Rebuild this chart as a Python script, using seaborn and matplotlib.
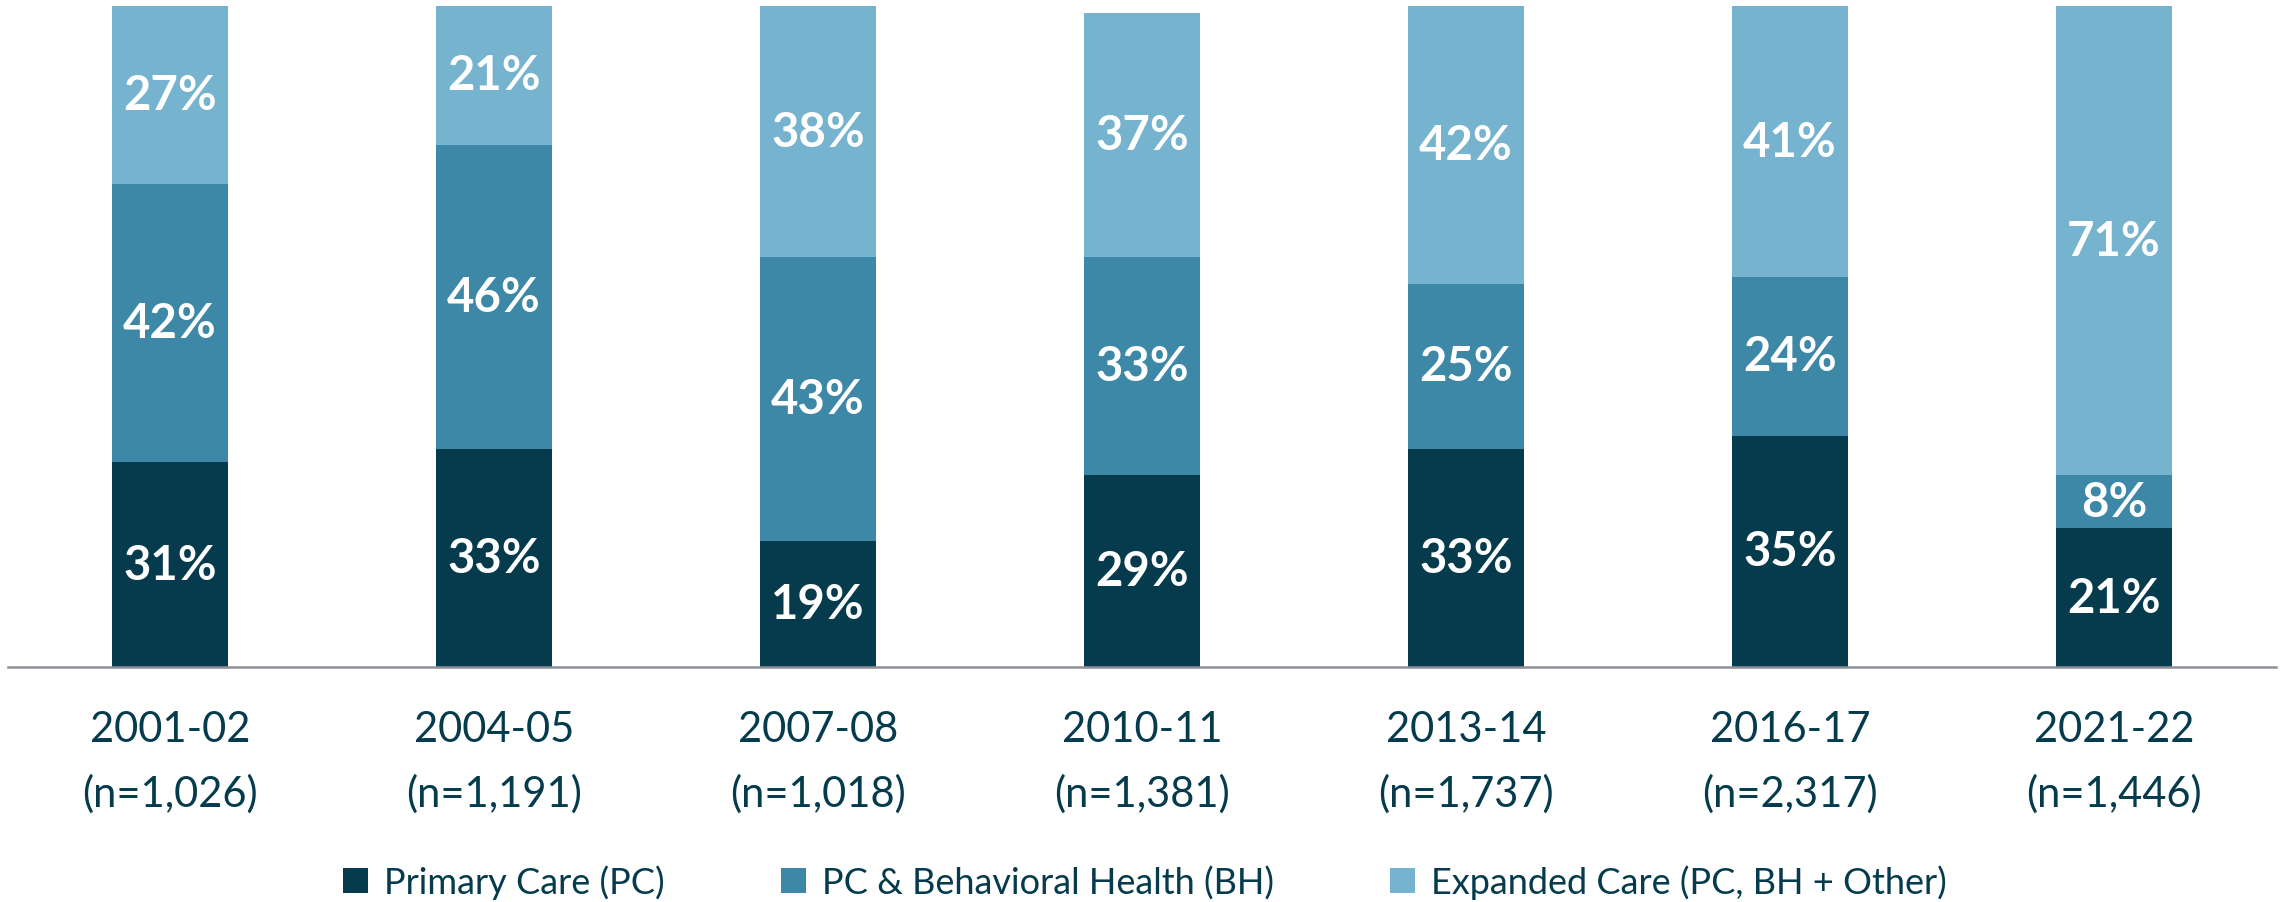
import numpy as np
import pandas as pd
import matplotlib
matplotlib.use("Agg")
import matplotlib.pyplot as plt
import seaborn as sns
from matplotlib.patches import Patch

# data
years = ['2001-02', '2004-05', '2007-08', '2010-11', '2013-14', '2016-17', '2021-22']
n_sizes = ['1,026', '1,191', '1,018', '1,381', '1,737', '2,317', '1,446']
primary_care = [31, 33, 19, 29, 33, 35, 21]
pc_bh = [42, 46, 43, 33, 25, 24, 8]
expanded = [27, 21, 38, 37, 42, 41, 71]

series_names = ['Primary Care (PC)', 'PC & Behavioral Health (BH)', 'Expanded Care (PC, BH + Other)']
COLORS = ['#053B4C', '#3D88A7', '#76B3CE']
TEXT_COLOR = '#053B4C'

sns.set_style("white")
plt.rcParams['font.family'] = ['Lato', 'DejaVu Sans']

df = pd.DataFrame({'year': years, 'pc': primary_care, 'bh': pc_bh, 'exp': expanded})
df['cum1'] = df['pc']
df['cum2'] = df['pc'] + df['bh']
df['cum3'] = df['pc'] + df['bh'] + df['exp']

fig = plt.figure(figsize=(22.88, 9.03), dpi=100)
ax = fig.add_axes([8 / 2288, 1 - 668 / 903, (2276 - 8) / 2288, 661 / 903])

# layered bars: tallest first so the stacks show through
for col, color in zip(['cum3', 'cum2', 'cum1'], COLORS[::-1]):
    sns.barplot(data=df, x='year', y=col, color=color, width=0.36,
                saturation=1, ax=ax, linewidth=0)

# segment labels
for i in range(len(years)):
    base = 0
    for v in (primary_care[i], pc_bh[i], expanded[i]):
        ax.text(i, base + v / 2, f"{v}%", ha='center', va='center',
                color='white', fontsize=34, fontweight='bold')
        base += v

ax.set_xlim(-0.5, len(years) - 0.5)
ax.set_ylim(0, 100)
ax.set_xlabel('')
ax.set_ylabel('')
ax.set_yticks([])
ax.set_xticks(range(len(years)))
ax.set_xticklabels([f"{y}\n(n={n})" for y, n in zip(years, n_sizes)],
                   fontsize=30, color=TEXT_COLOR, linespacing=1.78)
ax.tick_params(axis='x', length=0, pad=31)
for s in ['top', 'left', 'right']:
    ax.spines[s].set_visible(False)
ax.spines['bottom'].set_color('#8E9097')
ax.spines['bottom'].set_linewidth(1.8)

handles = [Patch(facecolor=c, edgecolor='none') for c in COLORS]
fig.legend(handles, series_names, loc='center', ncol=3,
           bbox_to_anchor=(1145 / 2288, 1 - 883 / 903), frameon=False,
           fontsize=26, labelcolor=TEXT_COLOR, handlelength=0.7,
           handleheight=0.7, handletextpad=0.45, columnspacing=3.2)

fig.savefig('out.png', dpi=100)
